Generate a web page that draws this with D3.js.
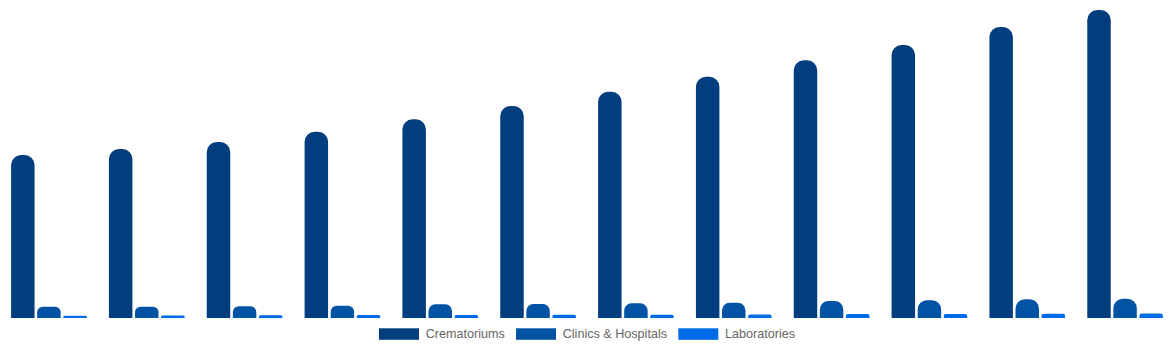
<!DOCTYPE html>
<html>
<head>
<meta charset="utf-8">
<script src="https://cdn.jsdelivr.net/npm/d3@7"></script>
<style>
  html, body { margin: 0; padding: 0; background: #fff; }
  #chart { width: 1174px; height: 350px; }
</style>
</head>
<body>
<div id="chart"></div>
<script>
// data (no axis shown, so units are relative)
var years = ["1", "2", "3", "4", "5", "6", "7", "8", "9", "10", "11", "12"];
var seriesNames = ["Crematoriums", "Clinics & Hospitals", "Laboratories"];
var crematoriums = [1630, 1690, 1760, 1863, 1987, 2120, 2263, 2413, 2577, 2730, 2910, 3080];
var clinics = [113, 113, 117, 123, 137, 140, 147, 153, 170, 177, 187, 193];
var laboratories = [23, 25, 27, 30, 30, 32, 33, 35, 40, 40, 43, 45];
var colors = ["#023e7d", "#0353a4", "#006be6"];

var width = 1174, height = 350;
var baseY = 318;

var rows = years.map(function (y, i) {
  return { year: y, values: [crematoriums[i], clinics[i], laboratories[i]] };
});

var svg = d3.select("#chart")
  .append("svg")
  .attr("width", width)
  .attr("height", height);

var x0 = d3.scaleBand()
  .domain(years)
  .range([0, width])
  .paddingInner(0.2)
  .paddingOuter(0.1);

var x1 = d3.scaleBand()
  .domain(seriesNames)
  .range([0, x0.bandwidth()])
  .paddingInner(0.1)
  .paddingOuter(0.05);

var y = d3.scaleLinear()
  .domain([0, 3180])
  .range([baseY, 0]);

var color = d3.scaleOrdinal().domain(seriesNames).range(colors);

// bar with rounded top corners, radius clamped like chart.js does
function topRounded(x, yTop, w, h, r) {
  r = Math.min(r, w / 2, h / 2);
  return "M" + x + "," + (yTop + h) +
    "V" + (yTop + r) +
    "A" + r + "," + r + " 0 0 1 " + (x + r) + "," + yTop +
    "H" + (x + w - r) +
    "A" + r + "," + r + " 0 0 1 " + (x + w) + "," + (yTop + r) +
    "V" + (yTop + h) + "Z";
}

var groups = svg.selectAll("g.group")
  .data(rows)
  .enter()
  .append("g")
  .attr("class", "group")
  .attr("transform", function (d) { return "translate(" + x0(d.year) + ",0)"; });

groups.selectAll("path")
  .data(function (d) {
    return d.values.map(function (v, i) { return { name: seriesNames[i], value: v }; });
  })
  .enter()
  .append("path")
  .attr("d", function (d) {
    var top = y(d.value);
    return topRounded(x1(d.name), top, x1.bandwidth(), baseY - top, 10);
  })
  .attr("fill", function (d) { return color(d.name); });

// legend, centered at the bottom
var legend = svg.append("g").attr("class", "legend");
var items = legend.selectAll("g")
  .data(seriesNames)
  .enter()
  .append("g");

items.append("rect")
  .attr("width", 40)
  .attr("height", 11.5)
  .attr("y", 328.3)
  .attr("fill", function (d) { return color(d); });

items.append("text")
  .attr("x", 46.7)
  .attr("y", 337.5)
  .attr("font-family", "'Liberation Sans', Arial, sans-serif")
  .attr("font-size", 12.6)
  .attr("fill", "#666")
  .text(function (d) { return d; });

var offset = 0;
var positions = [];
items.each(function () {
  var w = this.getBBox().width;
  positions.push(offset);
  offset += w + 11.3;
});
var total = offset - 11.3;
var startX = (width - total) / 2;
items.attr("transform", function (d, i) { return "translate(" + (startX + positions[i]) + ",0)"; });
</script>
</body>
</html>
